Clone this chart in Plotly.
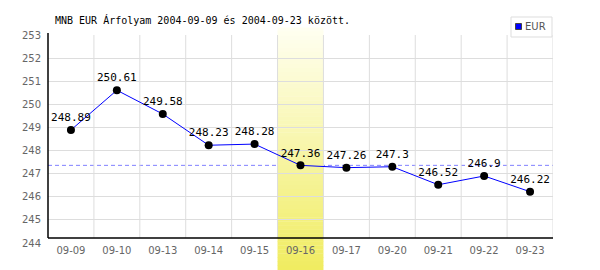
import plotly.graph_objects as go

# ---- data ----
dates = ["09-09", "09-10", "09-13", "09-14", "09-15", "09-16",
         "09-17", "09-20", "09-21", "09-22", "09-23"]
eur = [248.89, 250.61, 249.58, 248.23, 248.28, 247.36,
       247.26, 247.3, 246.52, 246.9, 246.22]
ref_value = 247.36
highlight_date = "09-16"
y_ticks = [244, 245, 246, 247, 248, 249, 250, 251, 252, 253]
title = "MNB EUR Árfolyam 2004-09-09 és 2004-09-23 között."
series_name = "EUR"

W, H = 600, 270
L, R, T, B = 48, 47, 35, 27
PW, PH = W - L - R, H - T - B


def px(x):
    return (x - L) / PW


def py(y):
    return (H - B - y) / PH


fig = go.Figure()
fig.add_trace(go.Scatter(
    x=dates, y=eur, mode="lines+markers+text",
    line=dict(color="#0000ff", width=1),
    marker=dict(color="#000000", size=8),
    text=[f"{v:g}" for v in eur], textposition="top center",
    textfont=dict(family="DejaVu Sans Mono", size=11, color="#000000"),
    showlegend=False, cliponaxis=False,
))

shapes = []
n = len(dates)
# vertical grid lines at category boundaries
for i in range(n):
    shapes.append(dict(type="line", xref="x", yref="y", x0=i + 0.5, x1=i + 0.5,
                       y0=244.22, y1=253, line=dict(color="#dddddd", width=1),
                       layer="below"))
# dashed reference line
shapes.append(dict(type="line", xref="paper", yref="y", x0=0, x1=1,
                   y0=ref_value, y1=ref_value,
                   line=dict(color="#8080ff", width=1, dash="4px,3px"), layer="below"))
# gradient highlight band
hi = dates.index(highlight_date)
top_px, bot_px = 28, 270
steps = 60
c0 = (255, 255, 242)
c1 = (240, 236, 96)
for k in range(steps):
    ya = top_px + (bot_px - top_px) * k / steps
    yb = top_px + (bot_px - top_px) * (k + 1) / steps
    t = (k + 0.5) / steps
    c = tuple(round(c0[j] + (c1[j] - c0[j]) * t) for j in range(3))
    shapes.append(dict(type="rect", xref="x", yref="paper",
                       x0=hi - 0.5, x1=hi + 0.5, y0=py(yb), y1=py(ya) + 0.002,
                       fillcolor="rgb(%d,%d,%d)" % c, line=dict(width=0),
                       layer="between"))
# axes lines
shapes.append(dict(type="line", xref="paper", yref="y", x0=0, x1=1,
                   y0=244.22, y1=244.22, line=dict(color="#000000", width=1.5),
                   layer="above"))
shapes.append(dict(type="line", xref="paper", yref="paper", x0=0, x1=0,
                   y0=py(238), y1=py(33), line=dict(color="#000000", width=1.5),
                   layer="above"))
# legend box
shapes.append(dict(type="rect", xref="paper", yref="paper",
                   x0=px(511), x1=px(552), y0=py(37), y1=py(17),
                   fillcolor="#ffffff", line=dict(color="#dddddd", width=1),
                   layer="above"))
shapes.append(dict(type="rect", xref="paper", yref="paper",
                   x0=px(515.5), x1=px(521.5), y0=py(29.5), y1=py(23.5),
                   fillcolor="#0000ff", line=dict(color="#444444", width=1),
                   layer="above"))

annotations = [
    dict(text=title, xref="paper", yref="paper", x=px(53), y=py(20),
         xanchor="left", yanchor="middle", showarrow=False,
         font=dict(family="DejaVu Sans Mono", size=10, color="#000000")),
    dict(text=series_name, xref="paper", yref="paper", x=px(523), y=py(27),
         xanchor="left", yanchor="middle", showarrow=False,
         font=dict(family="DejaVu Sans", size=10, color="#555555")),
]

fig.update_layout(
    width=W, height=H, margin=dict(l=L, r=R, t=T, b=B),
    paper_bgcolor="#ffffff", plot_bgcolor="#ffffff",
    shapes=shapes, annotations=annotations, showlegend=False,
    xaxis=dict(type="category", range=[-0.5, n - 0.5], showgrid=False,
               zeroline=False, showline=False, ticks="",
               tickfont=dict(family="DejaVu Sans", size=10, color="#666666")),
    yaxis=dict(range=[244, 253], tickvals=y_ticks, showgrid=True,
               gridcolor="#dddddd", gridwidth=1, zeroline=False, showline=False,
               ticks="outside", ticklen=4, tickcolor="rgba(0,0,0,0)",
               tickfont=dict(family="DejaVu Sans", size=10, color="#666666")),
)

fig.write_html("out.html")
